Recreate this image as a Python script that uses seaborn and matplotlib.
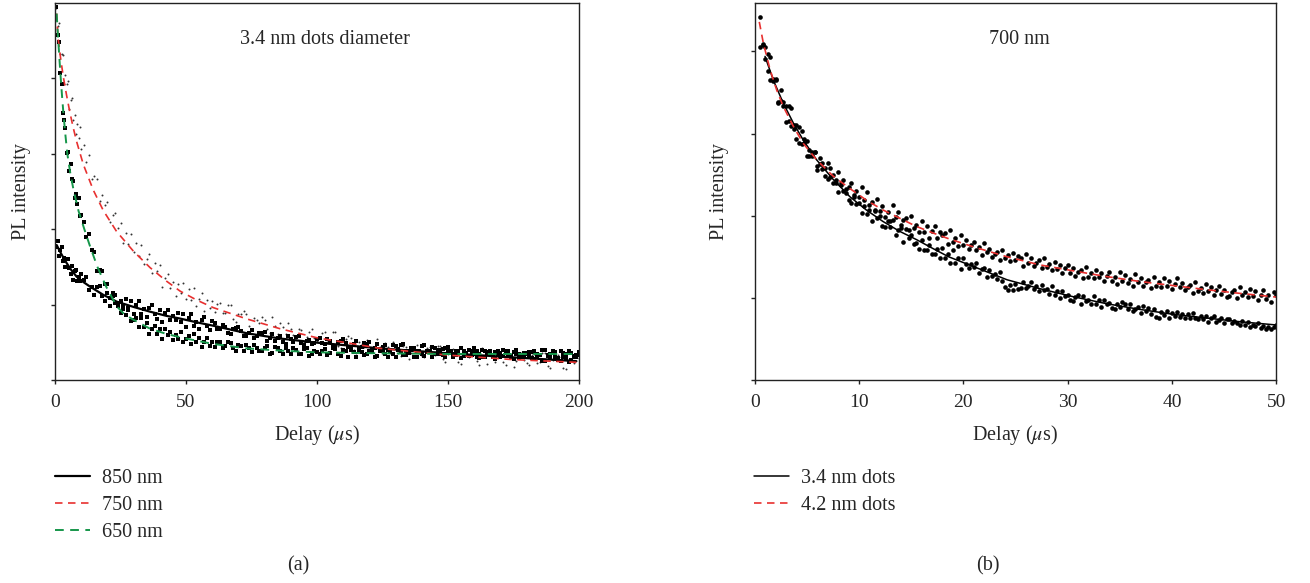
import matplotlib
matplotlib.use("Agg")
import matplotlib.pyplot as plt
import seaborn as sns

# ---------------- panel (a): 3.4 nm dots, PL decay at three wavelengths ----------------
delay_a = [0.5, 1, 1.5, 2, 2.5, 3, 3.5, 4, 4.5, 5, 5.5, 6, 6.5, 7, 7.5, 8, 8.5, 9, 9.5, 10,
           11, 12, 13, 14, 15, 16, 17, 18, 19, 20, 21, 22, 23, 24, 25, 26, 27, 28, 29, 30,
           31, 32, 33, 34, 35, 36, 37, 38, 39, 40, 41, 42, 43, 44, 45, 46, 47, 48, 49, 50,
           51, 52, 53, 54, 55, 56, 57, 58, 59, 60,
           62, 64, 66, 68, 70, 72, 74, 76, 78, 80, 82, 84, 86, 88, 90, 92, 94, 96, 98, 100,
           102, 104, 106, 108, 110, 112, 114, 116, 118, 120, 122, 124, 126, 128, 130, 132, 134, 136, 138, 140,
           142, 144, 146, 148, 150, 152, 154, 156, 158, 160, 162, 164, 166, 168, 170, 172, 174, 176, 178, 180,
           182, 184, 186, 188, 190, 192, 194, 196, 198, 200]

dots_850 = [1.76, 1.84, 1.65, 1.73, 1.77, 1.58, 1.62, 1.50, 1.60, 1.61, 1.48, 1.40, 1.51, 1.33, 1.45, 1.46, 1.31, 1.37, 1.31, 1.40,
            1.33, 1.37, 1.19, 1.24, 1.13, 1.23, 1.25, 1.12, 1.05, 1.16, 0.98, 1.11, 1.13, 0.985, 1.045, 0.98, 1.07, 0.95, 1.05, 0.88,
            0.99, 1.05, 0.88, 0.94, 0.84, 0.96, 0.99, 0.87, 0.81, 0.93, 0.765, 0.895, 0.93, 0.79, 0.855, 0.795, 0.89, 0.77, 0.87, 0.705,
            0.82, 0.88, 0.715, 0.775, 0.68, 0.80, 0.835, 0.715, 0.66, 0.78,
            0.68, 0.73, 0.62, 0.68, 0.705, 0.59, 0.62, 0.56, 0.625, 0.63, 0.56, 0.52, 0.59, 0.48, 0.55, 0.57, 0.485, 0.52, 0.48, 0.54,
            0.49, 0.54, 0.44, 0.51, 0.54, 0.44, 0.48, 0.41, 0.485, 0.50, 0.43, 0.40, 0.47, 0.37, 0.45, 0.47, 0.385, 0.42, 0.39, 0.45,
            0.38, 0.44, 0.34, 0.41, 0.44, 0.34, 0.38, 0.32, 0.40, 0.42, 0.35, 0.31, 0.39, 0.285, 0.36, 0.38, 0.30, 0.34, 0.31, 0.36,
            0.29, 0.35, 0.25, 0.32, 0.36, 0.26, 0.30, 0.24, 0.31, 0.33]

dots_750 = [4.94, 4.70, 4.73, 4.32, 4.33, 4.31, 3.93, 4.04, 3.93, 3.96, 3.60, 3.71, 3.74, 3.45, 3.52, 3.26, 3.40, 3.21, 3.35, 3.06,
            3.12, 2.89, 2.98, 2.67, 2.70, 2.66, 2.37, 2.46, 2.32, 2.36, 2.10, 2.19, 2.22, 2.01, 2.08, 1.82, 1.95, 1.81, 1.93, 1.70,
            1.82, 1.64, 1.79, 1.54, 1.61, 1.67, 1.42, 1.55, 1.44, 1.52, 1.23, 1.35, 1.40, 1.22, 1.30, 1.12, 1.27, 1.15, 1.29, 1.07,
            1.21, 1.06, 1.22, 0.98, 1.08, 1.15, 0.91, 1.06, 0.96, 1.05,
            1.01, 0.89, 1.00, 0.81, 0.87, 0.91, 0.72, 0.82, 0.75, 0.80, 0.62, 0.72, 0.76, 0.61, 0.68, 0.56, 0.66, 0.57, 0.68, 0.52,
            0.62, 0.51, 0.63, 0.455, 0.52, 0.58, 0.40, 0.51, 0.44, 0.505, 0.33, 0.44, 0.49, 0.36, 0.44, 0.32, 0.44, 0.36, 0.47, 0.32,
            0.43, 0.32, 0.45, 0.28, 0.35, 0.415, 0.24, 0.36, 0.30, 0.365, 0.20, 0.31, 0.37, 0.24, 0.32, 0.205, 0.33, 0.25, 0.36, 0.22,
            0.33, 0.23, 0.36, 0.19, 0.27, 0.335, 0.16, 0.28, 0.225, 0.295]

dots_650 = [4.95, 4.57, 4.48, 4.07, 3.93, 3.54, 3.45, 3.34, 3.01, 3.02, 2.77, 2.86, 2.67, 2.64, 2.41, 2.47, 2.33, 2.42, 2.18, 2.19,
            2.09, 1.89, 1.93, 1.73, 1.70, 1.45, 1.46, 1.44, 1.27, 1.27, 1.09, 1.16, 1.02, 1.02, 0.89, 0.94, 0.86, 0.93, 0.78, 0.80,
            0.82, 0.70, 0.82, 0.70, 0.75, 0.61, 0.68, 0.72, 0.61, 0.67, 0.55, 0.67, 0.60, 0.64, 0.53, 0.60, 0.54, 0.64, 0.51, 0.55,
            0.58, 0.48, 0.61, 0.50, 0.56, 0.44, 0.51, 0.56, 0.45, 0.51,
            0.50, 0.42, 0.51, 0.43, 0.47, 0.38, 0.43, 0.46, 0.38, 0.42, 0.35, 0.44, 0.39, 0.42, 0.34, 0.40, 0.35, 0.42, 0.34, 0.37,
            0.39, 0.33, 0.42, 0.35, 0.40, 0.31, 0.37, 0.40, 0.33, 0.38, 0.30, 0.39, 0.35, 0.38, 0.31, 0.37, 0.33, 0.40, 0.31, 0.35,
            0.37, 0.31, 0.40, 0.33, 0.38, 0.30, 0.355, 0.39, 0.315, 0.365, 0.29, 0.385, 0.34, 0.375, 0.30, 0.36, 0.32, 0.395, 0.31, 0.345,
            0.37, 0.305, 0.40, 0.33, 0.38, 0.295, 0.355, 0.39, 0.315, 0.365]

# the in-between samples of the long tail (odd delays)
delay_a_odd = [61, 63, 65, 67, 69, 71, 73, 75, 77, 79, 81, 83, 85, 87, 89, 91, 93, 95, 97, 99,
               101, 103, 105, 107, 109, 111, 113, 115, 117, 119, 121, 123, 125, 127, 129, 131, 133, 135, 137, 139,
               141, 143, 145, 147, 149, 151, 153, 155, 157, 159, 161, 163, 165, 167, 169, 171, 173, 175, 177, 179,
               181, 183, 185, 187, 189, 191, 193, 195, 197, 199]

dots_850_odd = [0.76, 0.67, 0.70, 0.61, 0.69, 0.65, 0.58, 0.665, 0.58, 0.62, 0.515, 0.605, 0.555, 0.51, 0.58, 0.51, 0.58, 0.46, 0.53, 0.49,
                0.56, 0.475, 0.52, 0.44, 0.52, 0.49, 0.43, 0.52, 0.44, 0.48, 0.39, 0.48, 0.44, 0.40, 0.47, 0.41, 0.48, 0.36, 0.43, 0.39,
                0.46, 0.37, 0.42, 0.34, 0.42, 0.39, 0.33, 0.43, 0.35, 0.39, 0.30, 0.40, 0.35, 0.31, 0.39, 0.32, 0.39, 0.28, 0.35, 0.31,
                0.37, 0.28, 0.33, 0.25, 0.34, 0.31, 0.25, 0.345, 0.27, 0.31]

dots_750_odd = [0.90, 1.02, 0.89, 0.99, 0.77, 0.88, 0.88, 0.68, 0.79, 0.83, 0.68, 0.83, 0.61, 0.70, 0.75, 0.60, 0.68, 0.50, 0.64, 0.56,
                0.50, 0.64, 0.51, 0.63, 0.42, 0.54, 0.56, 0.36, 0.48, 0.53, 0.39, 0.55, 0.34, 0.44, 0.50, 0.36, 0.45, 0.28, 0.43, 0.36,
                0.30, 0.44, 0.33, 0.45, 0.24, 0.37, 0.39, 0.21, 0.33, 0.39, 0.25, 0.42, 0.21, 0.32, 0.38, 0.24, 0.34, 0.17, 0.32, 0.26,
                0.20, 0.35, 0.24, 0.36, 0.16, 0.29, 0.31, 0.15, 0.26, 0.32]

dots_650_odd = [0.44, 0.50, 0.445, 0.495, 0.39, 0.45, 0.46, 0.365, 0.42, 0.38, 0.445, 0.36, 0.42, 0.35, 0.385, 0.43, 0.35, 0.405, 0.32, 0.38,
                0.34, 0.405, 0.355, 0.41, 0.32, 0.38, 0.395, 0.31, 0.37, 0.34, 0.40, 0.32, 0.38, 0.31, 0.35, 0.40, 0.325, 0.38, 0.30, 0.365,
                0.32, 0.39, 0.34, 0.40, 0.30, 0.365, 0.38, 0.295, 0.355, 0.325, 0.39, 0.31, 0.37, 0.305, 0.345, 0.395, 0.32, 0.375, 0.295, 0.36,
                0.32, 0.385, 0.335, 0.395, 0.30, 0.365, 0.38, 0.295, 0.355, 0.325]

# fitted decay curves
fit_x_850 = [0.63, 2.5, 4.45, 6.3, 8.27, 10.8, 13.3, 18.4, 23.5, 29.9, 36.3, 42.6, 47.7, 54.1, 60.4, 73.2, 85.9, 100, 124, 150, 175, 199]
fit_y_850 = [1.79, 1.665, 1.55, 1.455, 1.37, 1.30, 1.24, 1.13, 1.04, 0.97, 0.906, 0.85, 0.815, 0.765, 0.72, 0.62, 0.55, 0.495, 0.42, 0.354, 0.30, 0.25]

fit_x_750 = [0.63, 0.9, 1.27, 2.2, 3.18, 4.4, 5.73, 7.0, 8.27, 10.8, 14.6, 18.4, 23.5, 29.9, 36.3, 42.6, 47.7, 54.1, 60.4, 73.2, 85.9, 100, 124, 150, 175, 199]
fit_y_750 = [4.86, 4.68, 4.51, 4.25, 4.02, 3.78, 3.54, 3.34, 3.16, 2.86, 2.52, 2.25, 1.97, 1.71, 1.49, 1.31, 1.18, 1.06, 0.96, 0.81, 0.68, 0.56, 0.42, 0.33, 0.27, 0.235]

fit_x_650 = [0.63, 1.0, 1.4, 1.8, 2.2, 2.7, 3.3, 4.0, 4.7, 5.9, 7.2, 9.0, 11.2, 13.5, 16.2, 19.5, 23.5, 26.5, 29.9, 36.3, 42.6, 50, 60, 73, 86, 100, 124, 150, 175, 199]
fit_y_650 = [4.86, 4.64, 4.42, 4.20, 4.0, 3.76, 3.5, 3.24, 3.0, 2.73, 2.5, 2.24, 2.0, 1.76, 1.5, 1.24, 0.98, 0.87, 0.80, 0.68, 0.61, 0.55, 0.48, 0.42, 0.39, 0.367, 0.354, 0.345, 0.345, 0.345]

# ---------------- panel (b): 700 nm emission, two dot sizes ----------------
delay_b = [0.5, 0.75, 1.0, 1.25, 1.5, 1.75, 2.0, 2.25, 2.5, 2.75,
           3.0, 3.25, 3.5, 3.75, 4.0, 4.25, 4.5, 4.75, 5.0, 5.25,
           5.5, 5.75, 6.0, 6.25, 6.5, 6.75, 7.0, 7.25, 7.5, 7.75,
           8.0, 8.25, 8.5, 8.75, 9.0, 9.25, 9.5, 9.75, 10.0, 10.25,
           10.5, 10.75, 11.0, 11.25, 11.5, 11.75, 12.0, 12.25, 12.5, 12.75,
           13.0, 13.25, 13.5, 13.75, 14.0, 14.25, 14.5, 14.75, 15.0, 15.25,
           15.5, 15.75, 16.0, 16.25, 16.5, 16.75, 17.0, 17.25, 17.5, 17.75,
           18.0, 18.25, 18.5, 18.75, 19.0, 19.25, 19.5, 19.75, 20.0, 20.25,
           20.5, 20.75, 21.0, 21.25, 21.5, 21.75, 22.0, 22.25, 22.5, 22.75,
           23.0, 23.25, 23.5, 23.75, 24.0, 24.25, 24.5, 24.75, 25.0, 25.25,
           25.5, 25.75, 26.0, 26.25, 26.5, 26.75, 27.0, 27.25, 27.5, 27.75,
           28.0, 28.25, 28.5, 28.75, 29.0, 29.25, 29.5, 29.75, 30.0, 30.25,
           30.5, 30.75, 31.0, 31.25, 31.5, 31.75, 32.0, 32.25, 32.5, 32.75,
           33.0, 33.25, 33.5, 33.75, 34.0, 34.25, 34.5, 34.75, 35.0, 35.25,
           35.5, 35.75, 36.0, 36.25, 36.5, 36.75, 37.0, 37.25, 37.5, 37.75,
           38.0, 38.25, 38.5, 38.75, 39.0, 39.25, 39.5, 39.75, 40.0, 40.25,
           40.5, 40.75, 41.0, 41.25, 41.5, 41.75, 42.0, 42.25, 42.5, 42.75,
           43.0, 43.25, 43.5, 43.75, 44.0, 44.25, 44.5, 44.75, 45.0, 45.25,
           45.5, 45.75, 46.0, 46.25, 46.5, 46.75, 47.0, 47.25, 47.5, 47.75,
           48.0, 48.25, 48.5, 48.75, 49.0, 49.25, 49.5, 49.75, 50.0]

dots_42 = [4.42, 4.09, 4.06, 3.76, 3.93, 3.64, 3.65, 3.39, 3.40, 3.38,
           3.14, 3.33, 3.09, 3.11, 2.94, 3.08, 2.87, 2.94, 2.73, 2.80,
           2.73, 2.77, 2.60, 2.63, 2.64, 2.48, 2.64, 2.47, 2.50, 2.40,
           2.53, 2.38, 2.44, 2.28, 2.35, 2.40, 2.25, 2.30, 2.15, 2.35,
           2.12, 2.29, 2.13, 2.17, 2.07, 2.20, 2.06, 2.12, 1.98, 2.05,
           1.93, 2.13, 1.98, 2.04, 1.89, 1.95, 1.97, 1.83, 2.00, 1.85,
           1.89, 1.80, 1.94, 1.80, 1.87, 1.73, 1.81, 1.87, 1.73, 1.80,
           1.76, 1.79, 1.65, 1.83, 1.68, 1.73, 1.63, 1.77, 1.64, 1.70,
           1.59, 1.64, 1.68, 1.58, 1.62, 1.52, 1.67, 1.56, 1.60, 1.50,
           1.54, 1.56, 1.46, 1.58, 1.48, 1.52, 1.45, 1.55, 1.46, 1.51,
           1.49, 1.39, 1.54, 1.43, 1.48, 1.39, 1.43, 1.46, 1.36, 1.48,
           1.37, 1.41, 1.34, 1.44, 1.35, 1.40, 1.30, 1.36, 1.40, 1.30,
           1.36, 1.27, 1.31, 1.34, 1.24, 1.37, 1.26, 1.30, 1.24, 1.34,
           1.25, 1.30, 1.21, 1.27, 1.31, 1.21, 1.26, 1.17, 1.32, 1.21,
           1.28, 1.18, 1.23, 1.14, 1.29, 1.19, 1.24, 1.15, 1.19, 1.22,
           1.12, 1.25, 1.15, 1.19, 1.13, 1.24, 1.15, 1.20, 1.11, 1.17,
           1.24, 1.13, 1.18, 1.09, 1.13, 1.16, 1.06, 1.19, 1.08, 1.12,
           1.06, 1.17, 1.08, 1.13, 1.04, 1.10, 1.14, 1.05, 1.10, 1.01,
           1.02, 1.07, 1.10, 1.00, 1.13, 1.03, 1.07, 1.01, 1.11, 1.02,
           1.08, 0.98, 1.04, 1.09, 0.99, 1.04, 0.95, 1.07, 1.04]

dots_34 = [4.06, 4.08, 3.91, 3.97, 3.65, 3.67, 3.66, 3.37, 3.53, 3.33,
           3.33, 3.15, 3.31, 3.05, 3.10, 2.89, 3.03, 2.89, 2.91, 2.73,
           2.77, 2.77, 2.56, 2.70, 2.57, 2.58, 2.45, 2.58, 2.40, 2.44,
           2.29, 2.40, 2.30, 2.32, 2.19, 2.16, 2.23, 2.14, 2.23, 2.03,
           2.19, 2.02, 2.07, 1.93, 2.06, 1.97, 2.00, 1.88, 1.86, 1.94,
           1.86, 1.95, 1.76, 1.83, 1.85, 1.68, 1.84, 1.73, 1.76, 1.66,
           1.67, 1.60, 1.71, 1.58, 1.58, 1.64, 1.54, 1.54, 1.60, 1.48,
           1.61, 1.49, 1.53, 1.42, 1.58, 1.42, 1.49, 1.35, 1.49, 1.41,
           1.36, 1.41, 1.37, 1.42, 1.30, 1.35, 1.36, 1.25, 1.34, 1.27,
           1.29, 1.23, 1.31, 1.21, 1.13, 1.10, 1.16, 1.10, 1.17, 1.11,
           1.12, 1.19, 1.12, 1.15, 1.19, 1.11, 1.15, 1.08, 1.16, 1.10,
           1.11, 1.05, 1.14, 1.04, 1.08, 1.00, 1.08, 1.02, 1.04, 0.98,
           0.96, 1.01, 1.03, 0.92, 1.02, 0.96, 0.98, 0.92, 1.02, 0.92,
           0.97, 0.89, 0.97, 0.92, 0.94, 0.88, 0.87, 0.93, 0.89, 0.95,
           0.92, 0.87, 0.93, 0.84, 0.87, 0.89, 0.81, 0.90, 0.84, 0.88,
           0.80, 0.86, 0.77, 0.76, 0.83, 0.79, 0.84, 0.76, 0.82, 0.78,
           0.83, 0.77, 0.80, 0.75, 0.80, 0.75, 0.81, 0.76, 0.74, 0.78,
           0.74, 0.78, 0.71, 0.76, 0.78, 0.71, 0.73, 0.75, 0.69, 0.74,
           0.74, 0.69, 0.72, 0.69, 0.67, 0.72, 0.67, 0.71, 0.65, 0.67,
           0.66, 0.69, 0.63, 0.66, 0.62, 0.64, 0.62, 0.65, 0.67]

fit_x_34 = [0.99, 1.79, 2.74, 3.7, 4.66, 5.94, 7.54, 9.14, 10.7, 12.3, 13.9, 15.5, 17.1, 18.6, 21.0, 24.2, 27.4, 30.5, 33.7, 36.9, 40.1, 43.3, 46.5, 50]
fit_y_34 = [3.94, 3.65, 3.37, 3.13, 2.92, 2.68, 2.44, 2.23, 2.07, 1.93, 1.81, 1.71, 1.60, 1.50, 1.38, 1.22, 1.11, 1.015, 0.93, 0.86, 0.80, 0.755, 0.71, 0.67]

fit_x_42 = [0.44, 0.83, 1.47, 2.11, 2.74, 3.7, 4.66, 5.94, 7.54, 9.14, 10.7, 12.3, 13.9, 15.5, 17.1, 18.6, 21.0, 24.2, 27.4, 30.5, 33.7, 36.9, 40.1, 43.3, 46.5, 50]
fit_y_42 = [4.36, 4.10, 3.78, 3.53, 3.33, 3.09, 2.88, 2.68, 2.48, 2.33, 2.19, 2.07, 1.97, 1.87, 1.79, 1.72, 1.62, 1.50, 1.40, 1.33, 1.26, 1.20, 1.15, 1.10, 1.055, 1.01]

labels_a = ["850 nm", "750 nm", "650 nm"]
labels_b = ["3.4 nm dots", "4.2 nm dots"]

RED = "#e8302f"
GREEN = "#16964a"
DASH = (0, (4.5, 3.3))
FS = 14.5

sns.set_style("ticks")
plt.rcParams["font.family"] = ["Liberation Serif", "DejaVu Serif"]
plt.rcParams["mathtext.fontset"] = "stix"

W, H = 1310, 583
fig = plt.figure(figsize=(W / 100, H / 100), dpi=100)
ax_a = fig.add_axes([55 / W, 1 - 380 / H, 524 / W, 377 / H])
ax_b = fig.add_axes([754.7 / W, 1 - 380 / H, 521.5 / W, 377 / H])

# panel (a)
for xs, ys in [(delay_a, dots_750), (delay_a_odd, dots_750_odd)]:
    sns.scatterplot(x=xs, y=ys, ax=ax_a, s=2, color="#333333", linewidth=0, legend=False)
for xs, ys in [(delay_a, dots_850), (delay_a_odd, dots_850_odd), (delay_a, dots_650), (delay_a_odd, dots_650_odd)]:
    sns.scatterplot(x=xs, y=ys, ax=ax_a, s=7, marker="s", color="black", linewidth=0, legend=False)
sns.lineplot(x=fit_x_850, y=fit_y_850, ax=ax_a, color="black", lw=1.6, label=labels_a[0])
sns.lineplot(x=fit_x_750, y=fit_y_750, ax=ax_a, color=RED, lw=1.2, linestyle=DASH, label=labels_a[1])
sns.lineplot(x=fit_x_650, y=fit_y_650, ax=ax_a, color=GREEN, lw=1.4, linestyle=DASH, label=labels_a[2])
ax_a.set_xlim(0, 200)
ax_a.set_ylim(0, 5)
ax_a.set_xticks([0, 50, 100, 150, 200])
ax_a.set_yticks([0, 1, 2, 3, 4])
ax_a.text(103, 4.52, "3.4 nm dots diameter", ha="center", va="center", fontsize=FS)

# panel (b)
sns.scatterplot(x=delay_b, y=dots_34, ax=ax_b, s=11, color="black", linewidth=0, legend=False)
sns.scatterplot(x=delay_b, y=dots_42, ax=ax_b, s=11, color="black", linewidth=0, legend=False)
sns.lineplot(x=fit_x_34, y=fit_y_34, ax=ax_b, color="black", lw=1.1, label=labels_b[0])
sns.lineplot(x=fit_x_42, y=fit_y_42, ax=ax_b, color=RED, lw=1.2, linestyle=DASH, label=labels_b[1])
ax_b.set_xlim(0, 50)
ax_b.set_ylim(0, 4.59)
ax_b.set_xticks([0, 10, 20, 30, 40, 50])
ax_b.set_yticks([0, 1, 2, 3, 4])
ax_b.text(25.4, 4.15, "700 nm", ha="center", va="center", fontsize=FS)

legend_x = {ax_a: 55 / W, ax_b: 754 / W}
ylabel_x = {ax_a: -0.046, ax_b: -0.049}
for ax in (ax_a, ax_b):
    for side in ("top", "right", "left", "bottom"):
        ax.spines[side].set_visible(True)
        ax.spines[side].set_color("#222222")
        ax.spines[side].set_linewidth(1.0)
    ax.tick_params(axis="both", direction="out", length=3, width=1.0, color="#222222")
    ax.tick_params(axis="x", labelsize=14, pad=7)
    ax.tick_params(axis="y", labelleft=False)
    ax.set_xlabel("Delay ($\\mu$s)", fontsize=FS)
    ax.xaxis.set_label_coords(0.5, -0.114)
    ax.set_ylabel("PL intensity", fontsize=FS)
    ax.yaxis.set_label_coords(ylabel_x[ax], 0.5)
    handles, labels = ax.get_legend_handles_labels()
    ax.legend(handles, labels, loc="upper left", bbox_to_anchor=(legend_x[ax], 1 - 469 / H),
              bbox_transform=fig.transFigure, frameon=False, fontsize=FS,
              handlelength=1.75, handletextpad=0.6, labelspacing=0.4,
              borderpad=0, borderaxespad=0)

fig.text(298 / W, 1 - 566 / H, "(a)", ha="center", va="center", fontsize=FS)
fig.text(988 / W, 1 - 566 / H, "(b)", ha="center", va="center", fontsize=FS)

fig.savefig("out.png", dpi=100)
